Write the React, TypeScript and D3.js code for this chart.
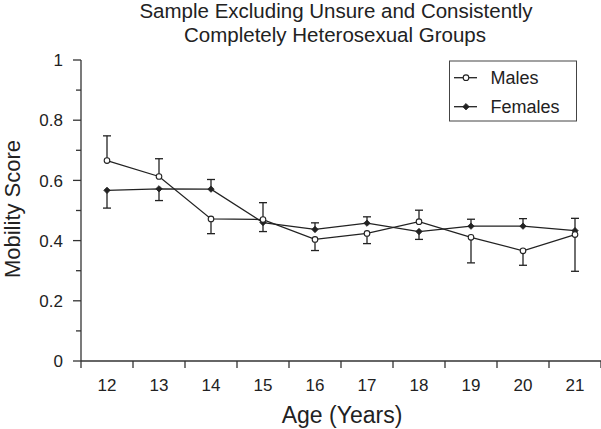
import React from "react";
import * as d3 from "d3";

const ages = [12, 13, 14, 15, 16, 17, 18, 19, 20, 21];
const maleMean = [0.666, 0.613, 0.472, 0.47, 0.404, 0.424, 0.463, 0.411, 0.366, 0.42];
const maleErr = [0.082, 0.059, 0.049, 0.056, 0.037, 0.034, 0.038, 0.085, 0.048, 0.122];
const femaleMean = [0.567, 0.572, 0.571, 0.46, 0.437, 0.458, 0.43, 0.448, 0.448, 0.433];
const femaleErr = [0.059, 0.039, 0.032, 0.03, 0.022, 0.021, 0.026, 0.023, 0.025, 0.041];
const yMajorTicks = [0, 0.2, 0.4, 0.6, 0.8, 1];
const yMinorTicks = [0.1, 0.3, 0.5, 0.7, 0.9];
const yTickLabels = ["0", "0.2", "0.4", "0.6", "0.8", "1"];
const titleLines = ["Sample Excluding Unsure and Consistently", "Completely Heterosexual Groups"];
const seriesNames = ["Males", "Females"];

const W = 601;
const H = 429;
const FONT = "'Liberation Sans', Arial, Helvetica, sans-serif";
const INK = "#222";

export default function App() {
  const x = d3.scaleBand<number>().domain(ages).range([81, 601]).padding(0);
  const y = d3.scaleLinear().domain([0, 1]).range([361, 60]);
  const cx = (a: number) => (x(a) as number) + x.bandwidth() / 2;

  const line = d3
    .line<number>()
    .x((_, i) => cx(ages[i]))
    .y((v) => y(v));

  const edges = [...ages.map((a) => x(a) as number), (x(ages[ages.length - 1]) as number) + x.bandwidth()];

  const diamond = (px: number, py: number, s: number) =>
    `M${px},${py - s}L${px + s},${py}L${px},${py + s}L${px - s},${py}Z`;

  const errBars: React.ReactNode[] = [];
  ages.forEach((a, i) => {
    const mUp = maleMean[i] >= femaleMean[i];
    const px = cx(a);
    const mEnd = mUp ? maleMean[i] + maleErr[i] : maleMean[i] - maleErr[i];
    const fEnd = mUp ? femaleMean[i] - femaleErr[i] : femaleMean[i] + femaleErr[i];
    [
      [maleMean[i], mEnd],
      [femaleMean[i], fEnd],
    ].forEach(([v0, v1], k) => {
      errBars.push(
        <g key={`e${i}-${k}`} stroke={INK} strokeWidth={1.3}>
          <line x1={px} x2={px} y1={y(v0)} y2={y(v1)} />
          <line x1={px - 4} x2={px + 4} y1={y(v1)} y2={y(v1)} />
        </g>
      );
    });
  });

  return (
    <svg
      width={W}
      height={H}
      style={{ position: "absolute", left: 0, top: 0, background: "#fff" }}
      fontFamily={FONT}
    >
      <rect x={0} y={0} width={W} height={H} fill="#fff" />
      {/* title */}
      <text x={336} y={17.5} textAnchor="middle" fontSize={20.5} fill={INK}>
        {titleLines[0]}
      </text>
      <text x={335} y={41.7} textAnchor="middle" fontSize={20.5} fill={INK}>
        {titleLines[1]}
      </text>

      {/* y axis */}
      <line x1={81} x2={81} y1={y(1)} y2={y(0)} stroke="#333" strokeWidth={1.3} />
      {yMajorTicks.map((t, i) => (
        <g key={`ym${i}`}>
          <line x1={73} x2={81} y1={y(t)} y2={y(t)} stroke="#333" strokeWidth={1.3} />
          <text x={63} y={y(t)} dy="0.36em" textAnchor="end" fontSize={17} fill={INK}>
            {yTickLabels[i]}
          </text>
        </g>
      ))}
      {yMinorTicks.map((t, i) => (
        <line key={`yn${i}`} x1={76} x2={81} y1={y(t)} y2={y(t)} stroke="#333" strokeWidth={1.3} />
      ))}
      <text
        transform={`translate(20,${209}) rotate(-90)`}
        textAnchor="middle"
        fontSize={22}
        fill={INK}
      >
        Mobility Score
      </text>

      {/* x axis */}
      <line x1={81} x2={601} y1={y(0)} y2={y(0)} stroke="#333" strokeWidth={1.3} />
      {edges.map((e, i) => (
        <line key={`xt${i}`} x1={e} x2={e} y1={y(0)} y2={y(0) + 7} stroke="#333" strokeWidth={1.3} />
      ))}
      {ages.map((a) => (
        <text key={`xl${a}`} x={cx(a)} y={391} textAnchor="middle" fontSize={17} fill={INK}>
          {a}
        </text>
      ))}
      <text x={342} y={422.5} textAnchor="middle" fontSize={23} fill={INK}>
        Age (Years)
      </text>

      {/* error bars */}
      {errBars}

      {/* lines */}
      <path d={line(femaleMean) || ""} fill="none" stroke={INK} strokeWidth={1.3} />
      <path d={line(maleMean) || ""} fill="none" stroke={INK} strokeWidth={1.3} />

      {/* markers */}
      {femaleMean.map((v, i) => (
        <path key={`fm${i}`} d={diamond(cx(ages[i]), y(v), 3.2)} fill={INK} stroke={INK} strokeWidth={0.8} />
      ))}
      {maleMean.map((v, i) => (
        <circle key={`mm${i}`} cx={cx(ages[i])} cy={y(v)} r={2.8} fill="#fff" stroke={INK} strokeWidth={1.1} />
      ))}

      {/* legend */}
      <rect x={449.5} y={61} width={127} height={60} fill="#fff" stroke="#444" strokeWidth={1} />
      <line x1={454} x2={477} y1={77.7} y2={77.7} stroke={INK} strokeWidth={1.3} />
      <circle cx={466} cy={77.7} r={2.8} fill="#fff" stroke={INK} strokeWidth={1.1} />
      <text x={490.5} y={77.7} dy="0.36em" fontSize={18} fill={INK}>
        {seriesNames[0]}
      </text>
      <line x1={454} x2={477} y1={106.7} y2={106.7} stroke={INK} strokeWidth={1.3} />
      <path d={diamond(466, 106.7, 3.2)} fill={INK} stroke={INK} strokeWidth={0.8} />
      <text x={490.5} y={106.7} dy="0.36em" fontSize={18} fill={INK}>
        {seriesNames[1]}
      </text>
    </svg>
  );
}
